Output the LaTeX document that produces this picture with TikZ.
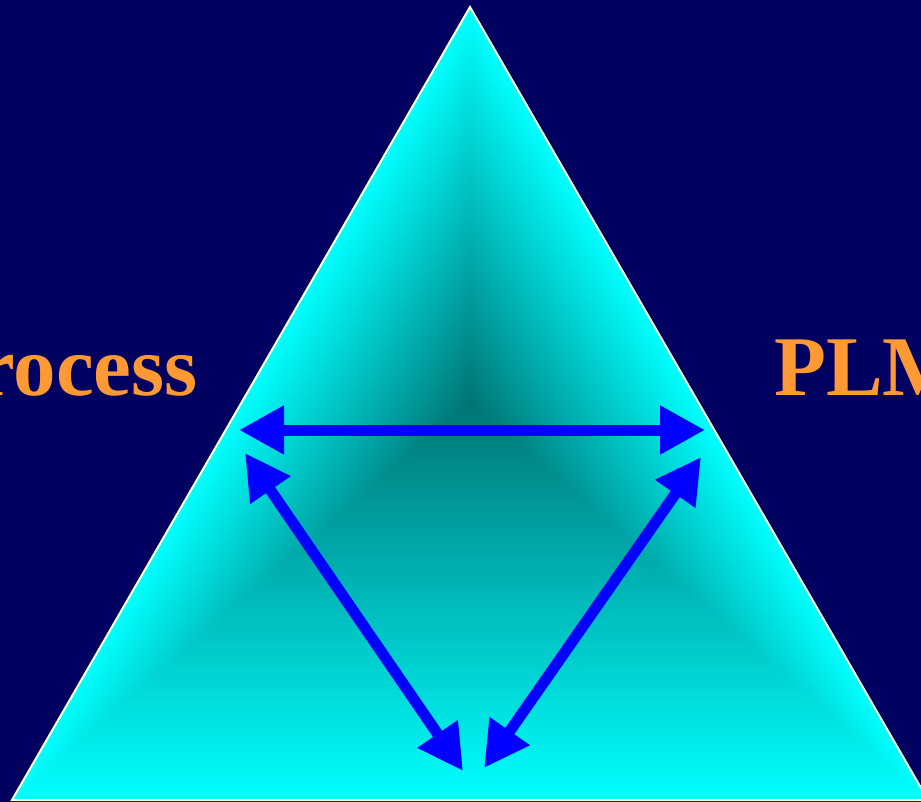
\documentclass[tikz,border=0pt]{standalone}
\usepackage{fontspec}
\setmainfont{Liberation Serif}
\usepackage{xcolor}
\usepackage{tikz}
\usetikzlibrary{arrows.meta,positioning,calc}
\definecolor{DeepNavy}{HTML}{000060}
\definecolor{EdgeCyan}{HTML}{00FFFF}
\definecolor{CoreTeal}{HTML}{007474}
\definecolor{LabelOrange}{HTML}{FF9933}
\definecolor{ArrowBlue}{HTML}{0000FF}
\definecolor{RimWhite}{HTML}{FFFFD8}
\tikzset{
  % Side labels
  LB/.style={inner sep=0pt,text=LabelOrange,
             font=\fontsize{85}{85}\selectfont\bfseries},
  % Double arrow
  arr/.style={{Triangle[length=45pt,width=46pt]}-{Triangle[length=45pt,width=46pt]},
              line width=11pt,draw=ArrowBlue},
  % Triangle outline
  rim/.style={draw=RimWhite,line width=2pt,line join=miter}
}

\begin{document}
\begin{tikzpicture}[x=1pt,y=-1pt]
  \useasboundingbox (0,0) rectangle (921,802);
  \clip (0,0) rectangle (921,802);
  \fill[DeepNavy] (0,0) rectangle (921,802);

  % --- Corners and centre of the shaded triangle ---
  \coordinate (top) at (470,7);
  \coordinate (lft) at (12,800);
  \coordinate (rgt) at (928,800);
  \coordinate (ctr) at (470,403.5);

  % nested copies shrink towards the centre
  \foreach \i in {100,99,...,1}{
    \fill[EdgeCyan!\i!CoreTeal] ($(ctr)!\i/100!(top)$) -- ($(ctr)!\i/100!(lft)$)
      -- ($(ctr)!\i/100!(rgt)$) -- cycle;
  }
  \draw[rim] (top) -- (lft) -- (rgt) -- cycle;

  % --- Labels ---
  \node[LB,anchor=base east] (proc) at (198,395) {Process};
  \node[LB,anchor=base west] (plm)  at (774,395) {PLM};

  % --- Arrow ends ---
  \coordinate (hl) at (239,430);
  \coordinate (hr) at (705,430);
  \coordinate (dl) at (245,453);
  \coordinate (db) at (463,771);
  \coordinate (dr) at (701,457);
  \coordinate (eb) at (484,768);

  \draw[arr] (hl) -- (hr);
  \draw[arr] (dl) -- (db);
  \draw[arr] (dr) -- (eb);
\end{tikzpicture}
\end{document}
